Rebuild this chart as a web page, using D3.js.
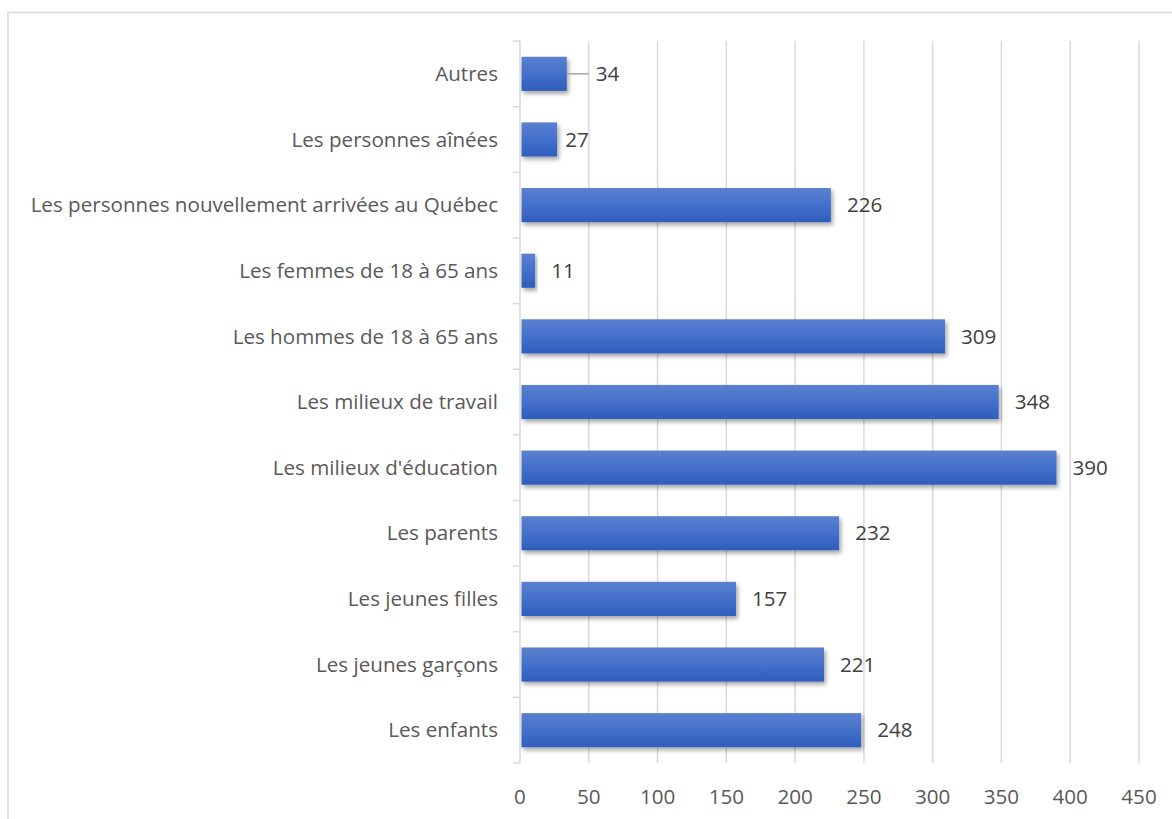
<!DOCTYPE html>
<html>
<head>
<meta charset="utf-8">
<script src="https://cdn.jsdelivr.net/npm/d3@7"></script>
<style>
  body { margin: 0; background: #fff; }
  text { font-family: "Open Sans", sans-serif; fill: #595959; }
</style>
</head>
<body>
<div id="chart"></div>
<script>
const categories = [
  "Autres",
  "Les personnes aînées",
  "Les personnes nouvellement arrivées au Québec",
  "Les femmes de 18 à 65 ans",
  "Les hommes de 18 à 65 ans",
  "Les milieux de travail",
  "Les milieux d'éducation",
  "Les parents",
  "Les jeunes filles",
  "Les jeunes garçons",
  "Les enfants"
];
const values = [34, 27, 226, 11, 309, 348, 390, 232, 157, 221, 248];
const ticks = [0, 50, 100, 150, 200, 250, 300, 350, 400, 450];

const w = 1172;
const h = 819;
const plotLeft = 520;
const plotRight = 1139;
const plotTop = 41;
const plotBottom = 763;
const fontSize = 20.6;

const svg = d3.select("#chart")
  .append("svg")
  .attr("width", w)
  .attr("height", h);

const defs = svg.append("defs");
const grad = defs.append("linearGradient")
  .attr("id", "barGrad")
  .attr("x1", 0).attr("y1", 0).attr("x2", 0).attr("y2", 1);
grad.append("stop").attr("offset", "0%").attr("stop-color", "#5b80cf");
grad.append("stop").attr("offset", "50%").attr("stop-color", "#4470cb");
grad.append("stop").attr("offset", "100%").attr("stop-color", "#2f5dbb");

const shadow = defs.append("filter")
  .attr("id", "shadow")
  .attr("x", "-10%").attr("y", "-30%").attr("width", "130%").attr("height", "180%");
shadow.append("feDropShadow")
  .attr("dx", 2).attr("dy", 3).attr("stdDeviation", 2.2)
  .attr("flood-color", "#000").attr("flood-opacity", 0.35);

// chart area border (only top and left visible in the crop)
svg.append("path")
  .attr("d", `M8,${h} L8,12.5 L${w},12.5`)
  .attr("fill", "none")
  .attr("stroke", "#d9d9d9")
  .attr("stroke-width", 1.5);

const x = d3.scaleLinear().domain([0, 450]).range([plotLeft, plotRight]);
const y = d3.scaleBand().domain(categories).range([plotTop, plotBottom]).paddingInner(0.48).paddingOuter(0.24);
const yb = d3.scaleBand().domain(categories).range([plotTop, plotBottom]);

// gridlines
svg.append("g")
  .selectAll("line")
  .data(ticks.slice(1))
  .join("line")
  .attr("x1", d => x(d)).attr("x2", d => x(d))
  .attr("y1", plotTop).attr("y2", plotBottom)
  .attr("stroke", "#d9d9d9")
  .attr("stroke-width", 1.5);

// category axis with tick marks between categories
const axisG = svg.append("g");
axisG.append("line")
  .attr("x1", plotLeft).attr("x2", plotLeft)
  .attr("y1", plotTop).attr("y2", plotBottom)
  .attr("stroke", "#d9d9d9").attr("stroke-width", 1.5);
axisG.selectAll("line.tick")
  .data(categories.map(c => yb(c)).concat([plotBottom]))
  .join("line")
  .attr("class", "tick")
  .attr("x1", plotLeft - 7).attr("x2", plotLeft)
  .attr("y1", d => d).attr("y2", d => d)
  .attr("stroke", "#d9d9d9").attr("stroke-width", 1.5);

axisG.selectAll("text")
  .data(categories)
  .join("text")
  .attr("x", plotLeft - 22)
  .attr("y", d => yb(d) + yb.bandwidth() / 2)
  .attr("dy", "0.35em")
  .attr("text-anchor", "end")
  .attr("font-size", fontSize)
  .text(d => d);

// value axis labels
svg.append("g")
  .selectAll("text")
  .data(ticks)
  .join("text")
  .attr("x", d => x(d))
  .attr("y", 797)
  .attr("dy", "0.35em")
  .attr("text-anchor", "middle")
  .attr("font-size", fontSize)
  .text(d => d);

// bars
svg.append("g")
  .selectAll("rect")
  .data(values)
  .join("rect")
  .attr("x", x(0) + 1.5)
  .attr("y", (d, i) => y(categories[i]))
  .attr("width", d => x(d) - x(0) - 1.5)
  .attr("height", y.bandwidth())
  .attr("fill", "url(#barGrad)")
  .attr("filter", "url(#shadow)");

// data labels
const labelX = (d, i) => {
  if (i === 0) return x(d) + 29;
  if (i === 1) return x(d) + 8;
  return x(d) + 16;
};

svg.append("line")
  .attr("x1", x(values[0])).attr("x2", x(values[0]) + 22)
  .attr("y1", yb(categories[0]) + yb.bandwidth() / 2)
  .attr("y2", yb(categories[0]) + yb.bandwidth() / 2)
  .attr("stroke", "#a6a6a6").attr("stroke-width", 1.5);

svg.append("g")
  .selectAll("text")
  .data(values)
  .join("text")
  .attr("x", labelX)
  .attr("y", (d, i) => y(categories[i]) + y.bandwidth() / 2)
  .attr("dy", "0.35em")
  .attr("font-size", fontSize)
  .style("fill", "#404040")
  .text(d => d);
</script>
</body>
</html>
